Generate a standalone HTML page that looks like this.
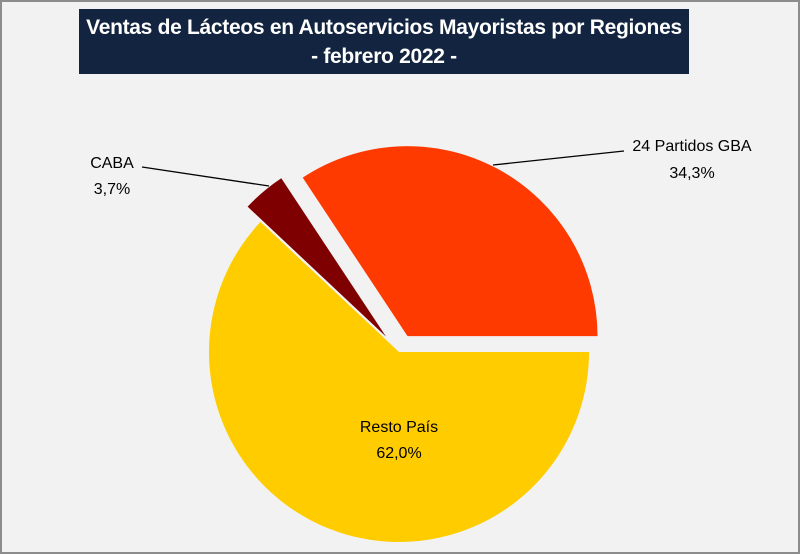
<!DOCTYPE html>
<html><head><meta charset="utf-8"><style>
html,body{margin:0;padding:0;background:#f2f2f2}
#c{position:relative;width:800px;height:554px;box-sizing:border-box;border:2px solid #8c8c8c;border-bottom:none;background:#f2f2f2;overflow:hidden;font-family:"Liberation Sans",sans-serif}
#bb{position:absolute;left:0;top:550px;width:800px;height:2px;background:#8c8c8c}
#title{position:absolute;left:77px;top:7px;width:610px;height:65px;background:#12243f;color:#fff;text-align:center;font-weight:bold;font-size:21px;line-height:29px;padding-top:4px;box-sizing:border-box;letter-spacing:-0.3px}
svg{position:absolute;left:0;top:0}
</style></head><body>
<div id="c">
<div id="title">Ventas de Lácteos en Autoservicios Mayoristas por Regiones<br>- febrero 2022 -</div>
<svg id="s" width="800" height="554"></svg>
<div id="bb"></div>
</div>
<script>
const categories=["CABA","24 Partidos GBA","Resto País"];
const values=[3.7,34.3,62.0];
const labels=["3,7%","34,3%","62,0%"];
const colors=["#7f0000","#ff3a00","#ffcc00"];
const explode=[20,18,0];
const svg=document.getElementById('s');
const NS="http://www.w3.org/2000/svg";
const cx=397,cy=350,r=190;
const startDeg=313.2;
const total=values.reduce((a,b)=>a+b,0);
let a=startDeg;
const pt=(ang,rad,ox,oy)=>{const t=ang*Math.PI/180;return [cx+ox+rad*Math.sin(t),cy+oy-rad*Math.cos(t)];};
values.forEach((v,i)=>{
  const sweep=v/total*360,a0=a,a1=a+sweep,mid=(a0+a1)/2*Math.PI/180;
  const ox=explode[i]*Math.sin(mid),oy=-explode[i]*Math.cos(mid);
  const p0=pt(a0,r,ox,oy),p1=pt(a1,r,ox,oy);
  const p=document.createElementNS(NS,'path');
  p.setAttribute('d',`M${cx+ox},${cy+oy}L${p0[0]},${p0[1]}A${r},${r} 0 ${sweep>180?1:0} 1 ${p1[0]},${p1[1]}Z`);
  p.setAttribute('fill',colors[i]);
  
  
  svg.appendChild(p);
  a=a1;
});
function txt(x,y,s,name){const t=document.createElementNS(NS,'text');t.setAttribute('x',x);t.setAttribute('y',y);t.setAttribute('text-anchor','middle');t.setAttribute('font-size','16');t.setAttribute('fill','#000');t.textContent=s;


svg.appendChild(t);}
function line(x1,y1,x2,y2,name){const l=document.createElementNS(NS,'line');l.setAttribute('x1',x1);l.setAttribute('y1',y1);l.setAttribute('x2',x2);l.setAttribute('y2',y2);l.setAttribute('stroke','#000');l.setAttribute('stroke-width','1.3');


svg.appendChild(l);}
line(140,165,267,184,'leader-line-caba');
line(622,149,491,163,'leader-line-gba');
txt(110,166,categories[0],'label-caba');txt(110,192,labels[0],'value-caba');
txt(690,149,categories[1],'label-gba');txt(690,176,labels[1],'value-gba');
txt(397,430,categories[2],'label-resto');txt(397,456,labels[2],'value-resto');
</script>
</body></html>
